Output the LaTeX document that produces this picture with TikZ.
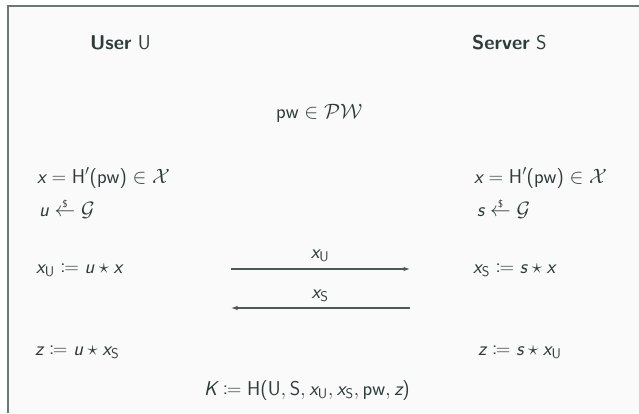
\documentclass[tikz,border=0pt]{standalone}
\usepackage{mathtools}
\usetikzlibrary{arrows.meta}
\renewcommand{\familydefault}{\sfdefault}
\DeclareSymbolFont{sfit}{TU}{lmss}{m}{sl}
\SetSymbolFont{operators}{normal}{TU}{lmss}{m}{n}
\SetMathAlphabet{\mathsf}{normal}{TU}{lmss}{m}{n}
\DeclareMathSymbol{x}{\mathalpha}{sfit}{`x}
\DeclareMathSymbol{u}{\mathalpha}{sfit}{`u}
\DeclareMathSymbol{s}{\mathalpha}{sfit}{`s}
\DeclareMathSymbol{z}{\mathalpha}{sfit}{`z}
\DeclareMathSymbol{K}{\mathalpha}{sfit}{`K}
\definecolor{ink}{HTML}{2E3C3C}
\definecolor{framecol}{HTML}{6A7878}
\definecolor{bgcol}{HTML}{FAFAFA}
\newcommand{\pwd}{\mathsf{pw}}
\newcommand{\sU}{\mathsf{U}}
\newcommand{\sS}{\mathsf{S}}
\newcommand{\sampled}{\mathrel{\mbox{\ooalign{$\leftarrow$\cr\hidewidth\raisebox{8.5pt}{$\scriptscriptstyle\$$}\hidewidth\cr}}}}
\begin{document}
\begin{tikzpicture}[x=1pt,y=-1pt,
  txt/.style={inner sep=0pt, text=ink, font=\fontsize{20}{24}\selectfont, anchor=base west},
  lbl/.style={inner sep=0pt, text=ink, font=\fontsize{20}{24}\selectfont, anchor=base},
  msg/.style={draw=ink!85, line width=1.1pt, -{Latex[length=6.5pt,width=4.5pt]}}]
\useasboundingbox (0,0) rectangle (639,413);
\fill[white] (0,0) rectangle (639,413);
\fill[bgcol] (8,6) rectangle (639,413);
\draw[framecol, line width=1.5pt] (8,413) -- (8,6) -- (639,6);
% headers
\node[txt] (user) at (90,49) {\textbf{User} $\sU$};
\node[txt] (server) at (472,49) {\textbf{Server} $\sS$};
\node[txt] (pw) at (276,118) {$\pwd \in \mathcal{PW}$};
% left column
\node[txt] (lx) at (37,183) {$x = \mathsf{H}'(\pwd) \in \mathcal{X}$};
\node[txt] (lu) at (39,216) {$u \sampled \mathcal{G}$};
\node[txt] (lxu) at (36,273) {$x_\sU \coloneqq u \star x$};
\node[txt] (lz) at (35,355) {$z \coloneqq u \star x_\sS$};
% right column
\node[txt] (rx) at (474,183) {$x = \mathsf{H}'(\pwd) \in \mathcal{X}$};
\node[txt] (rs) at (477,216) {$s \sampled \mathcal{G}$};
\node[txt] (rxs) at (473,273) {$x_\sS \coloneqq s \star x$};
\node[txt] (rz) at (478,355) {$z \coloneqq s \star x_\sU$};
% key
\node[txt] (key) at (204,395) {$K \coloneqq \mathsf{H}(\sU, \sS, x_\sU, x_\sS, \pwd, z)$};
% messages
\coordinate (m1s) at (231,269);
\coordinate (m1e) at (410,269);
\coordinate (m2s) at (410,308);
\coordinate (m2e) at (231,308);
\draw[msg] (m1s) -- (m1e);
\draw[msg] (m2s) -- (m2e);
\node[lbl] (l1) at (320,258) {$x_\sU$};
\node[lbl] (l2) at (320,298) {$x_\sS$};
\end{tikzpicture}
\end{document}
